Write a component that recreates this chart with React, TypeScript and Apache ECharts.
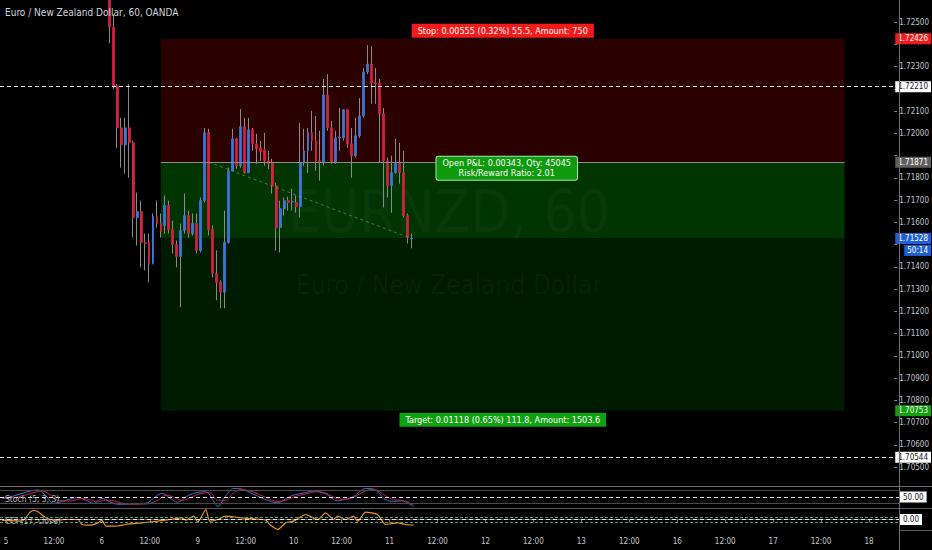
import { useEffect, useRef } from "react";
import * as echarts from "echarts";

const FONT = "'Liberation Sans Narrow', 'DejaVu Sans Condensed', 'Liberation Sans', sans-serif";

// hourly bars, weekends skipped; the view runs from 4 23:00 to 18 07:00
const tradingDays = [4, 5, 6, 9, 10, 11, 12, 13, 16, 17, 18];
const viewStart = "4 23:00";
const viewEnd = "18 07:00";

// [open, close, low, high], one per hour from candleStart
const candleStart = "6 02:00";
const candles = [
  [1.72684, 1.72478, 1.72406, 1.727],
  [1.72478, 1.72213, 1.722, 1.72536],
  [1.72213, 1.72025, 1.71935, 1.72222],
  [1.72025, 1.71949, 1.71846, 1.7207],
  [1.71949, 1.72025, 1.71819, 1.7207],
  [1.72025, 1.71958, 1.71801, 1.72222],
  [1.71958, 1.71622, 1.71532, 1.71967],
  [1.71622, 1.71649, 1.71496, 1.71734],
  [1.71649, 1.7151, 1.71398, 1.71698],
  [1.7151, 1.71505, 1.71384, 1.7155],
  [1.7151, 1.71416, 1.71331, 1.7155],
  [1.71416, 1.71626, 1.71411, 1.7164],
  [1.71626, 1.71595, 1.71577, 1.71698],
  [1.71595, 1.71559, 1.71532, 1.7164],
  [1.71586, 1.71676, 1.7155, 1.71721],
  [1.71676, 1.71568, 1.7155, 1.71698],
  [1.71568, 1.71501, 1.7146, 1.71608],
  [1.71501, 1.71447, 1.71398, 1.71519],
  [1.71447, 1.71564, 1.71219, 1.71595],
  [1.71564, 1.71631, 1.7155, 1.7173],
  [1.71631, 1.7155, 1.71532, 1.71653],
  [1.7155, 1.71595, 1.71541, 1.7164],
  [1.71595, 1.71474, 1.7146, 1.7164],
  [1.71474, 1.71698, 1.71465, 1.71712],
  [1.71698, 1.72003, 1.71689, 1.72025],
  [1.72003, 1.71568, 1.71541, 1.72021],
  [1.71568, 1.71371, 1.71353, 1.71586],
  [1.71371, 1.71331, 1.7125, 1.71474],
  [1.71331, 1.71286, 1.71214, 1.7134],
  [1.71286, 1.7151, 1.71214, 1.71653],
  [1.7151, 1.71832, 1.71505, 1.71846],
  [1.71832, 1.71976, 1.71832, 1.72021],
  [1.71976, 1.71855, 1.71841, 1.7198],
  [1.71855, 1.7203, 1.71846, 1.7211],
  [1.7203, 1.71823, 1.71819, 1.7207],
  [1.71823, 1.72016, 1.71823, 1.7207],
  [1.72016, 1.71953, 1.71922, 1.72025],
  [1.71953, 1.71931, 1.71864, 1.71998],
  [1.71935, 1.71917, 1.71877, 1.71967],
  [1.71926, 1.71877, 1.71855, 1.72003],
  [1.71877, 1.71864, 1.71841, 1.71922],
  [1.71868, 1.71766, 1.7173, 1.71886],
  [1.71766, 1.71577, 1.71474, 1.71779],
  [1.71577, 1.71662, 1.71465, 1.71698],
  [1.71662, 1.71698, 1.71631, 1.71712],
  [1.71698, 1.71689, 1.71653, 1.71716],
  [1.71692, 1.71694, 1.71653, 1.71752],
  [1.71689, 1.71671, 1.71644, 1.71721],
  [1.71671, 1.71868, 1.71622, 1.72047],
  [1.71868, 1.71922, 1.71855, 1.72021],
  [1.71922, 1.72003, 1.71823, 1.72025],
  [1.72003, 1.71967, 1.71922, 1.72101],
  [1.71967, 1.71877, 1.71832, 1.72079],
  [1.71877, 1.71868, 1.71788, 1.72012],
  [1.71868, 1.72173, 1.71855, 1.72245],
  [1.72173, 1.72025, 1.72012, 1.72267],
  [1.72025, 1.71868, 1.71864, 1.72056],
  [1.71868, 1.7198, 1.71864, 1.72012],
  [1.7198, 1.71985, 1.71922, 1.72115],
  [1.7198, 1.72106, 1.71967, 1.7211],
  [1.72106, 1.71953, 1.71935, 1.7211],
  [1.71953, 1.719, 1.71801, 1.72025],
  [1.719, 1.71989, 1.71891, 1.7207],
  [1.71989, 1.72079, 1.7198, 1.72159],
  [1.72079, 1.72276, 1.7207, 1.72294],
  [1.72276, 1.72312, 1.72267, 1.72397],
  [1.72312, 1.72227, 1.72133, 1.72392],
  [1.72227, 1.72222, 1.72133, 1.72294],
  [1.72227, 1.72088, 1.71868, 1.72245],
  [1.72088, 1.71877, 1.71667, 1.72115],
  [1.71877, 1.71766, 1.71712, 1.71891],
  [1.71766, 1.71823, 1.71644, 1.719],
  [1.71823, 1.71864, 1.71819, 1.71976],
  [1.71864, 1.71823, 1.71774, 1.71958],
  [1.71823, 1.71631, 1.71622, 1.71922],
  [1.71631, 1.71532, 1.71505, 1.7164],
  [1.71525, 1.71528, 1.71483, 1.7155],
];

// long position tool
const toolStart = "6 15:00";
const toolEnd = "17 19:00";
const entryBar = "9 03:00";
const lastBar = "11 06:00";
const pnlLabelAt = "12 06:00";
const stopLevel = 1.72426;
const entryLevel = 1.71871;
const lastPrice = 1.71528;
const targetLevel = 1.70753;
const userLines = [1.7221, 1.70544];
const stopText = "Stop: 0.00555 (0.32%) 55.5, Amount: 750";
const targetText = "Target: 0.01118 (0.65%) 111.8, Amount: 1503.6";
const pnlText = "Open P&L: 0.00343, Qty: 45045\nRisk/Reward Ratio: 2.01";
const countdown = "50:14";

// indicator readings: [bars after 5 00:00, value]
const stochK = [
  [-1, 42], [2, 55], [5, 72], [8, 82], [10, 55], [12, 21], [15, 35], [18, 48], [20, 35], [22, 21],
  [24, 44], [26, 28], [28, 17], [31, 18], [35, 21], [37, 45], [39, 67], [41, 45], [43, 26], [45, 50],
  [47, 67], [50, 74], [52, 30], [53, 8], [55, 55], [57, 89], [59, 86], [62, 62], [65, 38], [68, 24],
  [70, 42], [72, 59], [75, 70], [77, 77], [80, 64], [83, 33], [85, 40], [87, 52], [90, 89], [92, 86],
  [95, 38], [97, 30], [99, 33], [102, 6],
];
const stochD = [
  [-1, 45], [3, 50], [6, 65], [9, 78], [11, 60], [13, 35], [16, 32], [19, 44], [21, 38], [23, 28],
  [25, 36], [27, 33], [29, 22], [32, 18], [35, 18], [38, 35], [40, 58], [42, 50], [44, 35], [46, 45],
  [48, 62], [51, 70], [53, 35], [55, 35], [57, 70], [59, 84], [62, 72], [65, 48], [68, 30], [70, 35],
  [72, 50], [75, 64], [78, 74], [80, 68], [83, 42], [85, 40], [87, 48], [90, 78], [92, 85], [95, 55],
  [97, 38], [99, 35], [102, 15],
];
const cci = [
  [-1, -27], [4, -67], [6, 293], [7, 360], [8, 307], [10, 67], [12, -27], [15, 0], [18, 0], [19, -200],
  [21, -227], [23, -133], [24, -20], [25, -267], [28, -260], [30, -200], [34, -133], [38, -67], [41, 0],
  [44, 67], [45, -27], [47, 133], [48, -107], [50, 400], [51, -67], [53, 0], [55, 133], [59, 67], [62, 27],
  [65, -27], [66, -200], [68, -400], [70, -133], [72, -67], [75, 200], [76, 133], [78, 0], [80, 267],
  [82, 0], [83, 133], [85, 0], [87, 133], [88, -67], [90, 293], [93, 200], [95, -200], [98, -133],
  [100, -200], [102, -227],
];
const stochBands = [80, 20];
const stochUserLine = 50;
const cciBands = [100, -100];
const cciUserLine = 0;

const UP = "#3b76d9";
const DOWN = "#d0213e";
const WICK = "#8a8a8a";
const AXIS_TEXT = "#c3c6ce";

const allHours = tradingDays.flatMap((d) =>
  Array.from({ length: 24 }, (_, h) => `${d} ${String(h).padStart(2, "0")}:00`)
);
const timeline = allHours.slice(allHours.indexOf(viewStart), allHours.indexOf(viewEnd) + 1);

function buildOption() {
  const c0 = timeline.indexOf(candleStart);
  const full = timeline.map((_, i) => candles[i - c0] ?? "-");
  const bodies = timeline.map((_, i) => {
    const k = candles[i - c0];
    if (!k) return "-";
    return [k[0], k[1], Math.min(k[0], k[1]), Math.max(k[0], k[1])];
  });
  const base = timeline.indexOf("5 00:00");
  const toIndex = (pts: number[][]) => pts.map(([o, v]) => [base + o, v]);

  const isTick = (_: number, v: string) => v.endsWith(" 00:00") || v.endsWith(" 12:00");

  // scale labels sitting under a coloured price tag are hidden, as on the platform
  const tagged = [stopLevel, entryLevel, lastPrice, ...userLines];
  const priceTick = (v: number) =>
    tagged.some((t) => Math.abs(t - v) < 0.0003) ? "" : v.toFixed(5);

  const levelLabel = (value: number, bg: string, fg: string, digits: number, line?: object) => ({
    yAxis: value,
    lineStyle: line ?? { color: "rgba(0,0,0,0)", width: 0 },
    label: {
      show: true,
      opacity: 1,
      position: "end",
      distance: 1,
      formatter: value.toFixed(digits),
      backgroundColor: bg,
      color: fg,
      padding: [2, 3, 1, 3],
      fontSize: 8,
      fontFamily: FONT,
    },
  });
  const userDash = { color: "#e6e6e6", width: 1, type: [4, 3] };

  const boxLabel = {
    color: "#fff",
    fontSize: 9,
    fontFamily: FONT,
    padding: [3, 6, 2, 6],
  };

  const hiddenX = (gridIndex: number) => ({
    type: "category",
    gridIndex,
    data: timeline,
    show: false,
  });

  return {
    animation: false,
    backgroundColor: "#000",
    title: {
      text: "Euro / New Zealand Dollar, 60, OANDA",
      left: 5,
      top: 7,
      padding: 0,
      textStyle: { color: "#d1d4dc", fontSize: 10, fontWeight: "normal", fontFamily: FONT },
    },
    grid: [
      { left: -1, top: -1.3, width: 900, height: 490.6 },
      { left: -1, top: 486, width: 900, height: 22 },
      { left: -1, top: 508, width: 900, height: 22 },
    ],
    xAxis: [
      hiddenX(0),
      hiddenX(1),
      {
        type: "category",
        gridIndex: 2,
        data: timeline,
        axisLine: { show: true, lineStyle: { color: "#5e5e5e" } },
        axisTick: { show: true, interval: isTick, alignWithLabel: true, length: 3, lineStyle: { color: "#777" } },
        axisLabel: {
          interval: isTick,
          margin: 7,
          color: AXIS_TEXT,
          fontSize: 8,
          fontFamily: FONT,
          formatter: (v: string) => (v.endsWith(" 00:00") ? v.split(" ")[0] : "12:00"),
        },
        splitLine: { show: false },
      },
    ],
    yAxis: [
      {
        type: "value",
        gridIndex: 0,
        position: "right",
        min: 1.704,
        max: 1.726,
        interval: 0.001,
        axisLine: { show: false },
        axisTick: { show: true, length: 3, lineStyle: { color: "#888" } },
        axisLabel: {
          showMinLabel: false,
          showMaxLabel: false,
          margin: 5,
          color: AXIS_TEXT,
          fontSize: 8,
          fontFamily: FONT,
          formatter: priceTick,
        },
        splitLine: { show: false },
      },
      { type: "value", gridIndex: 1, min: 0, max: 100, show: false },
      { type: "value", gridIndex: 2, min: -420, max: 460, show: false },
    ],
    series: [
      {
        name: "wicks",
        type: "candlestick",
        xAxisIndex: 0,
        yAxisIndex: 0,
        z: 3,
        barWidth: 1,
        data: full,
        itemStyle: {
          color: "transparent",
          color0: "transparent",
          borderColor: WICK,
          borderColor0: WICK,
          borderColorDoji: WICK,
          borderWidth: 1,
        },
        markArea: {
          silent: true,
          data: [
            [
              {
                xAxis: toolStart,
                yAxis: stopLevel,
                itemStyle: { color: "#2a0000" },
                label: { show: true, position: "top", distance: 1, formatter: stopText, backgroundColor: "#f51a1a", ...boxLabel },
              },
              { xAxis: toolEnd, yAxis: entryLevel },
            ],
            [
              { xAxis: toolStart, yAxis: entryLevel, itemStyle: { color: "#003400" }, label: { show: false } },
              { xAxis: toolEnd, yAxis: lastPrice },
            ],
            [
              {
                xAxis: toolStart,
                yAxis: lastPrice,
                itemStyle: { color: "#001c00" },
                label: { show: true, position: "bottom", distance: 2, formatter: targetText, backgroundColor: "#10a010", ...boxLabel },
              },
              { xAxis: toolEnd, yAxis: targetLevel },
            ],
          ],
        },
        markLine: {
          silent: true,
          precision: 5,
          symbol: ["none", "none"],
          label: { show: false },
          data: [
            [
              { coord: [toolStart, entryLevel], lineStyle: { color: "#8c8c8c", width: 1, type: "solid" } },
              { coord: [toolEnd, entryLevel] },
            ],
            [
              { coord: [entryBar, entryLevel], lineStyle: { color: "rgba(160,170,160,0.5)", width: 1, type: [3, 3] } },
              { coord: [lastBar, lastPrice] },
            ],
            ...userLines.map((v) => levelLabel(v, "#ffffff", "#131313", 5, userDash)),
            levelLabel(stopLevel, "#f51a1a", "#ffffff", 5),
            levelLabel(entryLevel, "#5f5f5f", "#ffffff", 5),
            levelLabel(targetLevel, "#10a010", "#ffffff", 5),
            {
              yAxis: lastPrice,
              lineStyle: { color: "rgba(0,0,0,0)", width: 0 },
              label: {
                show: true,
                opacity: 1,
                position: "end",
                distance: 1,
                formatter: `{e| }\n{p|${lastPrice.toFixed(5)}}\n{t|${countdown}}`,
                rich: {
                  e: { lineHeight: 12, fontSize: 8 },
                  p: { backgroundColor: "#1f5fd6", color: "#fff", padding: [2, 3, 1, 3], fontSize: 8, lineHeight: 12, fontFamily: FONT },
                  t: { backgroundColor: "#1f5fd6", color: "#fff", padding: [2, 3, 1, 3], fontSize: 8, lineHeight: 12, fontFamily: FONT, align: "right" },
                },
              },
            },
          ],
        },
        markPoint: {
          silent: true,
          symbol: "rect",
          symbolSize: 1,
          itemStyle: { color: "transparent" },
          data: [
            {
              coord: [pnlLabelAt, entryLevel],
              label: {
                show: true,
                position: "inside",
                offset: [0, 6],
                formatter: pnlText,
                backgroundColor: "#0d9a0d",
                borderColor: "#a8e6a8",
                borderWidth: 1,
                borderRadius: 2,
                lineHeight: 10,
                align: "center",
                ...boxLabel,
                padding: [2, 6, 1, 6],
              },
            },
          ],
        },
      },
      {
        name: "bodies",
        type: "candlestick",
        xAxisIndex: 0,
        yAxisIndex: 0,
        z: 4,
        barWidth: 2.4,
        data: bodies,
        itemStyle: { color: UP, color0: DOWN, borderColor: UP, borderColor0: DOWN, borderWidth: 0.8 },
      },
      {
        name: "%K",
        type: "line",
        xAxisIndex: 1,
        yAxisIndex: 1,
        data: toIndex(stochK),
        smooth: 0.35,
        showSymbol: false,
        lineStyle: { color: "#3f6fd6", width: 1 },
        markLine: {
          silent: true,
          precision: 2,
          symbol: ["none", "none"],
          label: { show: false },
          data: [
            ...stochBands.map((v) => ({ yAxis: v, lineStyle: { color: "#4a4a4a", width: 1, type: "solid" } })),
            levelLabel(stochUserLine, "#ffffff", "#131313", 2, userDash),
          ],
        },
      },
      {
        name: "%D",
        type: "line",
        xAxisIndex: 1,
        yAxisIndex: 1,
        data: toIndex(stochD),
        smooth: 0.35,
        showSymbol: false,
        lineStyle: { color: "#c2204c", width: 1 },
      },
      {
        name: "CCI",
        type: "line",
        xAxisIndex: 2,
        yAxisIndex: 2,
        data: toIndex(cci),
        smooth: 0.2,
        showSymbol: false,
        lineStyle: { color: "#f39419", width: 1.2 },
        markLine: {
          silent: true,
          precision: 2,
          symbol: ["none", "none"],
          label: { show: false },
          data: [
            ...cciBands.map((v) => ({ yAxis: v, lineStyle: { color: "#5f9f6c", width: 1, type: [3, 2] } })),
            levelLabel(cciUserLine, "#ffffff", "#131313", 2, userDash),
          ],
        },
      },
    ],
    graphic: [
      {
        type: "text",
        x: 449,
        y: 212,
        z: 2,
        silent: true,
        style: {
          text: "EURNZD, 60",
          font: `58px ${FONT}`,
          fill: "rgba(140,150,150,0.06)",
          textAlign: "center",
          textVerticalAlign: "middle",
        },
      },
      {
        type: "text",
        x: 449,
        y: 285,
        z: 2,
        silent: true,
        style: {
          text: "Euro / New Zealand Dollar",
          font: `26px ${FONT}`,
          fill: "rgba(140,150,150,0.06)",
          textAlign: "center",
          textVerticalAlign: "middle",
        },
      },
      {
        type: "text",
        x: 5,
        y: 499,
        z: 10,
        style: { text: "Stoch (5, 3, 3)", font: `8.5px ${FONT}`, fill: "#b0b3bb", textVerticalAlign: "middle" },
      },
      {
        type: "text",
        x: 5,
        y: 521,
        z: 10,
        style: { text: "CCI (17, close)", font: `8.5px ${FONT}`, fill: "#b0b3bb", textVerticalAlign: "middle" },
      },
      { type: "line", z: 10, shape: { x1: 0, y1: 486.5, x2: 932, y2: 486.5 }, style: { stroke: "#6e6e6e", lineWidth: 1 } },
      { type: "line", z: 10, shape: { x1: 0, y1: 508.5, x2: 932, y2: 508.5 }, style: { stroke: "#5a5a5a", lineWidth: 1 } },
      { type: "line", z: 10, shape: { x1: 899, y1: 530.5, x2: 932, y2: 530.5 }, style: { stroke: "#5e5e5e", lineWidth: 1 } },
      { type: "line", z: 10, shape: { x1: 899.5, y1: 0, x2: 899.5, y2: 550 }, style: { stroke: "#6e6e6e", lineWidth: 1 } },
    ],
  };
}

export default function App() {
  const chartRef = useRef<HTMLDivElement>(null);

  useEffect(() => {
    if (!chartRef.current) return;
    const chart = echarts.init(chartRef.current, undefined, { renderer: "svg" });
    chart.setOption(buildOption() as echarts.EChartsOption);
    return () => {
      chart.dispose();
    };
  }, []);

  return (
    <div
      ref={chartRef}
      style={{ position: "fixed", left: 0, top: 0, width: 932, height: 550, background: "#000" }}
    />
  );
}
